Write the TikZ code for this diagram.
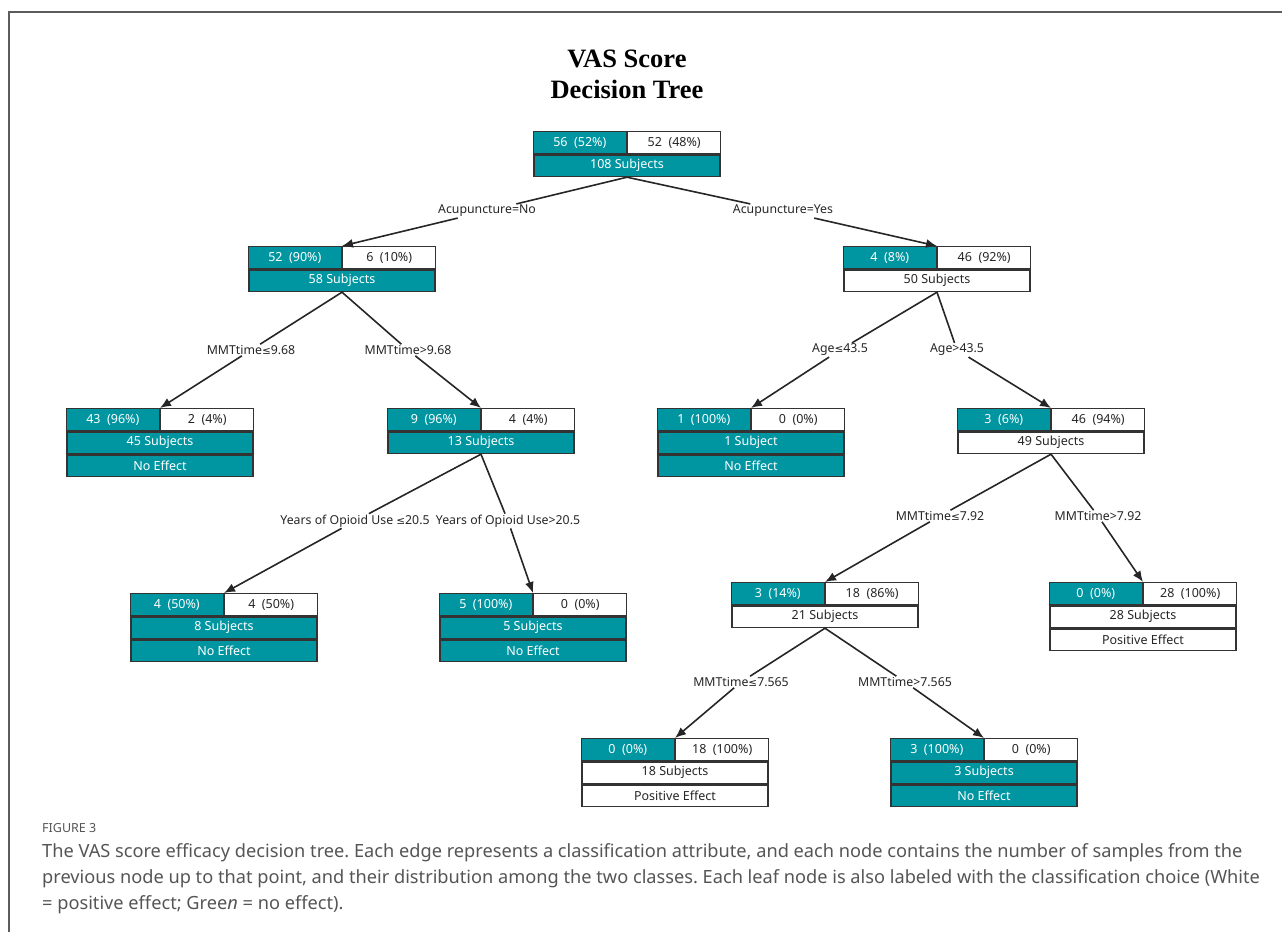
\documentclass[tikz,border=0pt]{standalone}
\usepackage{fontspec}
\setmainfont{Noto Sans}
\newfontfamily\titlefont{Liberation Serif}
\newfontfamily\capfont{Noto Sans}
\newfontfamily\symfont{DejaVu Sans}
\usetikzlibrary{arrows.meta}
\definecolor{vasteal}{RGB}{0,150,161}
\definecolor{boxline}{RGB}{51,51,51}
\definecolor{capgray}{RGB}{85,85,85}

\begin{document}
\begin{tikzpicture}[x=1pt,y=-1pt,
  cell/.style={draw=boxline, line width=1.4pt, minimum height=\rowh pt, inner sep=0pt, font=\fontsize{12.5}{14}\selectfont},
  tealcell/.style={fill=vasteal, text=white},
  plaincell/.style={fill=white, text=black!85},
  branch/.style={draw=black!85, line width=1.6pt, -{Latex[length=11pt,width=9pt]}},
  cond/.style={fill=white, inner sep=1pt, font=\fontsize{12.3}{14}\selectfont, text=black!85}]

\def\boxw{186}
\def\halfw{93}
\def\rowh{21.7}
\def\leqsym{{\symfont\fontsize{10.5}{14}\selectfont ≤}}

% one tree node: counts on top, subjects below
\def\vasnode#1#2#3#4#5#6#7{%
  \node[cell, tealcell, minimum width=\halfw pt, anchor=north east] (#1-l) at (#2,#3) {#4};
  \node[cell, plaincell, minimum width=\halfw pt, anchor=north west] (#1-r) at (#2,#3) {#5};
  \node[cell, #7, minimum width=\boxw pt, anchor=north] (#1) at (#1-l.south east) {#6};
}
% leaf: one more row with the class
\def\vasleaf#1#2#3#4#5#6#7#8{%
  \vasnode{#1}{#2}{#3}{#4}{#5}{#6}{#7}
  \node[cell, #7, minimum width=\boxw pt, anchor=north] (#1-leaf) at (#1.south) {#8};
}

\useasboundingbox (0,0) rectangle (1282,932);
\draw[boxline!80, line width=1.5pt] (9,932) -- (9,12) -- (1282,12);

\node[font=\titlefont\bfseries\fontsize{26.5}{31}\selectfont, align=center] (title) at (627,74) {VAS Score\\Decision Tree};

\vasnode{root}{627}{131}{56\ \ (52\%)}{52\ \ (48\%)}{108 Subjects}{tealcell}
\vasnode{n58}{342}{246}{52\ \ (90\%)}{6\ \ (10\%)}{58 Subjects}{tealcell}
\vasnode{n50}{937}{246}{4\ \ (8\%)}{46\ \ (92\%)}{50 Subjects}{plaincell}
\vasleaf{n45}{160}{408}{43\ \ (96\%)}{2\ \ (4\%)}{45 Subjects}{tealcell}{No Effect}
\vasnode{n13}{481}{408}{9\ \ (96\%)}{4\ \ (4\%)}{13 Subjects}{tealcell}
\vasleaf{n1}{751}{408}{1\ \ (100\%)}{0\ \ (0\%)}{1 Subject}{tealcell}{No Effect}
\vasnode{n49}{1051}{408}{3\ \ (6\%)}{46\ \ (94\%)}{49 Subjects}{plaincell}
\vasleaf{n8}{224}{593}{4\ \ (50\%)}{4\ \ (50\%)}{8 Subjects}{tealcell}{No Effect}
\vasleaf{n5}{533}{593}{5\ \ (100\%)}{0\ \ (0\%)}{5 Subjects}{tealcell}{No Effect}
\vasnode{n21}{825}{582}{3\ \ (14\%)}{18\ \ (86\%)}{21 Subjects}{plaincell}
\vasleaf{n28}{1143}{582}{0\ \ (0\%)}{28\ \ (100\%)}{28 Subjects}{plaincell}{Positive Effect}
\vasleaf{n18}{675}{738}{0\ \ (0\%)}{18\ \ (100\%)}{18 Subjects}{plaincell}{Positive Effect}
\vasleaf{n3}{984}{738}{3\ \ (100\%)}{0\ \ (0\%)}{3 Subjects}{tealcell}{No Effect}

% split conditions
\node[cond] (acuno) at (487,211) {Acupuncture=No};
\node[cond] (acuyes) at (783,211) {Acupuncture=Yes};
\node[cond] (mmtlea) at (251,350) {MMTtime\leqsym9.68};
\node[cond] (mmtgta) at (408,350) {MMTtime>9.68};
\node[cond] (agele) at (840,350) {Age\leqsym43.5};
\node[cond] (agegt) at (957,350) {Age>43.5};
\node[cond] (yearsle) at (355,521) {Years of Opioid Use \leqsym20.5};
\node[cond] (yearsgt) at (508,521) {Years of Opioid Use>20.5};
\node[cond] (mmtleb) at (940,516) {MMTtime\leqsym7.92};
\node[cond] (mmtgtb) at (1098,516) {MMTtime>7.92};
\node[cond] (mmtlec) at (741,682) {MMTtime\leqsym7.565};
\node[cond] (mmtgtc) at (905,682) {MMTtime>7.565};

\draw[branch] (root.south) -- (acuno) -- (n58-l.north east);
\draw[branch] (root.south) -- (acuyes) -- (n50-l.north east);
\draw[branch] (n58.south) -- (mmtlea) -- (n45-l.north east);
\draw[branch] (n58.south) -- (mmtgta) -- (n13-l.north east);
\draw[branch] (n50.south) -- (agele) -- (n1-l.north east);
\draw[branch] (n50.south) -- (agegt) -- (n49-l.north east);
\draw[branch] (n13.south) -- (yearsle) -- (n8-l.north east);
\draw[branch] (n13.south) -- (yearsgt) -- (n5-l.north east);
\draw[branch] (n49.south) -- (mmtleb) -- (n21-l.north east);
\draw[branch] (n49.south) -- (mmtgtb) -- (n28-l.north east);
\draw[branch] (n21.south) -- (mmtlec) -- (n18-l.north east);
\draw[branch] (n21.south) -- (mmtgtc) -- (n3-l.north east);

% caption
\node[anchor=north west, inner sep=0pt, font=\capfont\fontsize{12.5}{14}\selectfont, text=capgray] (figno) at (42,823) {FIGURE 3};
\node[anchor=north west, inner sep=0pt, align=left, font=\capfont\frenchspacing\fontsize{18.2}{26.3}\selectfont, text=capgray] (caption) at (42,843) {The VAS score efficacy decision tree. Each edge represents a classification attribute, and each node contains the number of samples from the\\previous node up to that point, and their distribution among the two classes. Each leaf node is also labeled with the classification choice (White\\= positive effect; Gree\textit{n} = no effect).};
\end{tikzpicture}
\end{document}
